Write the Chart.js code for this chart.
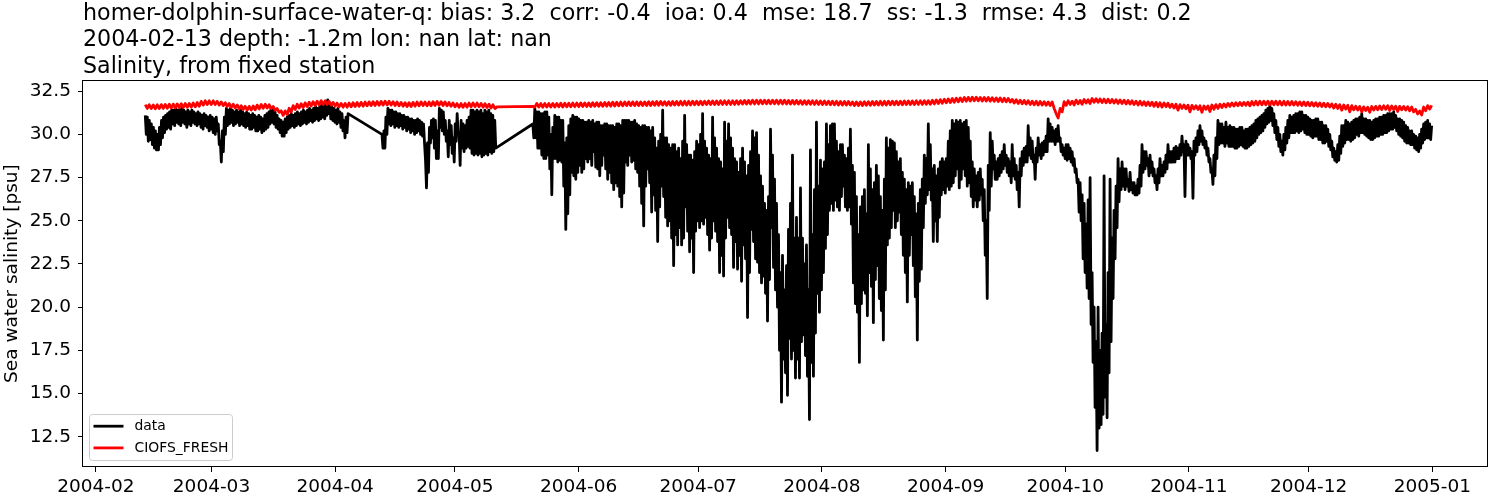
<!DOCTYPE html>
<html>
<head>
<meta charset="utf-8">
<script src="https://cdn.jsdelivr.net/npm/chart.js@4.4.1/dist/chart.umd.min.js"></script>
<style>
html,body{margin:0;padding:0;background:#fff;}
#wrap{width:1500px;height:500px;position:relative;}
</style>
</head>
<body>
<div id="wrap"><canvas id="c" width="1500" height="500"></canvas></div>
<script>
// ---------------- data ----------------
const titleLines = [
  'homer-dolphin-surface-water-q: bias: 3.2  corr: -0.4  ioa: 0.4  mse: 18.7  ss: -1.3  rmse: 4.3  dist: 0.2',
  '2004-02-13 depth: -1.2m lon: nan lat: nan',
  'Salinity, from fixed station'
];
const yAxisTitle = 'Sea water salinity [psu]';
const seriesNames = ['data', 'CIOFS_FRESH'];

const monthTicks = ['2004-02-01T00:00','2004-03-01T00:00','2004-04-01T00:00','2004-05-01T00:00','2004-06-01T00:00','2004-07-01T00:00','2004-08-01T00:00','2004-09-01T00:00','2004-10-01T00:00','2004-11-01T00:00','2004-12-01T00:00','2005-01-01T00:00'];
const monthLabels = ['2004-02','2004-03','2004-04','2004-05','2004-06','2004-07','2004-08','2004-09','2004-10','2004-11','2004-12','2005-01'];
const yTicks = [12.5, 15.0, 17.5, 20.0, 22.5, 25.0, 27.5, 30.0, 32.5];
const xRange = ['2004-01-28T19:00', '2005-01-14T23:00'];
const yRange = [10.75, 33.13];

// observed ("data") series: three recording periods, 6-hourly readings (high / low tide alternating)
const obsStart = ['2004-02-13T09:36', '2004-04-12T17:30', '2004-05-20T13:00'];
const obsEnd   = ['2004-04-04T05:30', '2004-05-11T06:00', '2004-12-31T20:00'];
const obsValues1 = [
 31.1,30.0, 31.0,29.6, 30.8,29.7, 30.6,29.4, 30.4,29.2, 30.2,29.1, 30.0,29.1, 30.4,29.4, 30.8,29.8, 31.0,30.1,
 31.1,30.3, 31.2,30.4, 31.3,30.3, 31.4,30.6, 31.4,30.5, 31.5,30.7, 31.4,30.6, 31.4,30.5, 31.5,30.7, 31.4,30.6,
 31.3,30.4, 31.4,30.6, 31.3,30.5, 31.4,30.7, 31.3,30.6, 31.2,30.5, 31.3,30.6, 31.2,30.4, 31.1,30.3, 31.2,30.5,
 31.1,30.4, 31.0,30.2, 31.1,30.3, 31.0,30.1, 30.9,30.0, 31.0,30.2, 30.6,29.4, 29.6,28.4, 30.2,29.0, 31.0,30.0,
 31.5,30.5, 31.4,30.6, 31.5,30.7, 31.4,30.5, 31.3,30.6, 31.4,30.7, 31.3,30.5, 31.4,30.6, 31.3,30.5, 31.2,30.4,
 31.3,30.5, 31.2,30.3, 31.1,30.3, 31.2,30.4, 31.1,30.2, 31.0,30.2, 31.1,30.3, 31.0,30.1, 30.9,30.2, 31.1,30.3,
 31.2,30.4, 31.3,30.6, 31.5,30.7, 31.4,30.6, 31.3,30.4, 31.1,30.3, 30.9,30.1, 30.8,29.9, 30.7,29.9, 30.9,30.1,
 31.0,30.3, 31.1,30.4, 31.2,30.5, 31.1,30.4, 31.2,30.5, 31.3,30.6, 31.2,30.5, 31.3,30.6, 31.4,30.7, 31.3,30.6,
 31.4,30.7, 31.5,30.8, 31.4,30.7, 31.5,30.8, 31.6,30.9, 31.5,30.8, 31.6,30.9, 31.7,31.0, 31.6,30.9, 31.9,31.1,
 32.0,31.2, 31.7,30.9, 31.6,30.8, 31.5,30.7, 31.4,30.6, 31.5,30.7, 31.3,30.4, 31.2,30.2, 30.8,29.8, 31.0,30.1,
 31.2
];
const obsValues2 = [
 30.0,29.2, 30.2,29.2, 31.0,30.0, 31.5,30.6, 31.4,30.5, 31.4,30.6, 31.3,30.4, 31.3,30.5, 31.2,30.4, 31.2,30.5,
 31.1,30.3, 31.1,30.4, 31.0,30.2, 31.0,30.3, 30.9,30.1, 30.9,30.2, 30.8,30.0, 30.8,30.1, 30.9,30.2, 30.8,30.0,
 30.7,29.9, 30.6,29.5, 28.5,26.9, 29.5,27.8, 30.4,29.5, 30.8,29.8, 30.9,29.2, 30.8,28.6, 30.2,28.6, 31.5,30.4,
 31.4,30.2, 31.3,30.0, 30.8,29.6, 30.2,28.7, 30.8,29.4, 30.5,28.9, 29.8,28.4, 30.6,29.6, 31.2,30.0, 30.0,28.2,
 30.8,29.2, 30.6,29.0, 30.5,29.2, 30.8,29.3, 31.0,29.2, 31.4,28.9, 31.4,28.8, 31.3,28.9, 31.4,28.8, 31.3,28.9,
 31.4,28.7, 31.2,28.8, 31.4,28.9, 31.3,28.8, 31.4,29.0, 31.2,28.9, 31.1,29.0, 30.8,29.2
];
const obsValues3 = [
 30.6,29.8, 31.5,29.8, 31.3,29.2, 31.3,29.2, 31.2,28.8, 31.2,28.6, 31.3,28.6, 31.3,28.8, 31.0,28.0, 30.0,26.5,
 30.4,28.6, 31.1,28.6, 31.0,28.4, 31.0,28.5, 30.8,28.4, 30.8,27.0, 29.5,24.5, 29.8,25.4, 30.5,26.5, 30.9,27.8,
 31.1,27.6, 31.0,27.4, 31.0,27.8, 30.9,28.2, 30.8,27.8, 30.8,28.0, 30.7,28.6, 30.7,28.4, 30.8,28.6, 30.7,28.2,
 30.8,29.0, 30.6,28.1, 30.7,28.0, 30.7,27.6, 30.5,28.2, 30.5,28.8, 30.6,28.0, 30.6,27.4, 30.5,27.8, 30.5,27.2,
 30.5,26.8, 30.4,27.2, 30.6,27.0, 30.6,26.4, 30.5,25.8, 30.8,26.6, 30.8,28.4, 30.8,28.2, 30.8,28.8, 30.7,28.4,
 30.7,28.5, 30.8,28.0, 30.6,27.8, 30.5,27.0, 30.4,26.0, 30.5,24.7, 30.5,27.0, 30.4,28.0, 30.4,27.2, 30.2,25.5,
 30.4,26.5, 29.8,25.6, 29.2,23.8, 29.6,25.8, 30.0,27.0, 31.4,26.4, 29.8,25.2, 29.8,24.7, 29.4,25.0, 29.2,24.0,
 29.4,22.4, 29.4,24.2, 29.0,23.6, 29.2,24.6, 28.6,23.6, 29.6,24.0, 31.1,25.8, 29.4,24.4, 28.8,23.2, 28.8,24.0,
 28.5,22.0, 29.0,24.4, 29.6,25.0, 29.4,24.6, 30.0,25.0, 31.2,24.8, 29.6,25.2, 29.2,24.2, 28.8,23.3, 28.6,24.0,
 31.0,25.0, 29.8,24.4, 29.2,23.8, 28.6,22.0, 28.4,23.0, 28.0,21.8, 30.7,24.0, 29.6,25.2, 30.6,24.6, 29.8,24.2,
 29.2,22.3, 28.6,23.8, 28.4,22.2, 27.8,23.0, 28.6,21.5, 29.2,23.6, 28.4,22.8, 27.6,19.4, 28.2,22.0, 29.0,24.5,
 30.2,23.8, 29.8,22.8, 30.1,22.6, 28.8,22.0, 27.6,21.4, 27.0,21.8, 26.0,20.8, 25.6,19.2, 26.4,21.6, 30.3,24.6,
 28.8,22.3, 27.4,21.0, 26.0,20.0, 24.2,17.5, 22.0,14.5, 23.0,17.0, 21.0,16.2, 22.4,14.9, 24.5,18.2, 26.0,17.0,
 28.8,17.5, 24.0,15.9, 25.2,17.0, 24.0,15.9, 26.9,18.0, 24.0,18.4, 22.5,17.2, 23.6,16.0, 21.0,13.5, 29.1,16.8,
 24.2,16.0, 26.8,18.5, 30.7,20.8, 27.0,19.7, 28.5,21.0, 28.0,22.0, 28.4,23.4, 30.6,24.2, 29.4,25.6, 30.5,26.0,
 30.6,25.6, 30.6,26.2, 29.6,25.8, 29.0,25.6, 29.4,26.4, 29.4,27.0, 28.8,25.8, 28.6,25.6, 29.2,25.8, 30.3,24.8,
 28.2,21.4, 27.8,20.2, 26.4,19.7, 24.2,16.8, 25.8,20.2, 26.4,21.0, 26.8,20.8, 25.4,19.5, 29.4,22.0, 28.0,21.2,
 26.8,19.1, 27.2,21.6, 28.2,22.4, 27.6,20.5, 26.4,19.8, 25.6,18.1, 27.4,21.0, 29.8,23.6, 29.2,24.0, 29.7,24.6,
 29.6,25.6, 29.5,24.6, 29.0,25.0, 28.4,25.5, 28.6,24.2, 27.8,23.0, 27.4,22.0, 26.8,20.3, 27.2,23.0, 27.0,24.2,
 27.2,22.4, 26.4,20.6, 25.4,18.1, 26.0,21.5, 26.8,22.2, 27.4,24.6, 28.8,26.0, 28.6,26.5, 30.6,26.8, 29.4,26.2,
 28.0,23.8, 28.2,25.0, 27.6,23.8, 28.0,25.2, 28.4,26.5, 28.6,26.8, 28.4,26.6, 28.6,27.0, 29.6,26.8, 30.2,27.0,
 30.8,27.2, 30.6,27.6, 30.8,28.0, 30.7,26.9, 30.8,27.4, 30.6,28.0, 30.7,27.6, 30.8,27.0, 30.4,27.2, 29.6,26.4,
 28.4,25.8, 28.0,26.2, 27.6,25.8, 27.8,26.2, 28.0,26.5, 27.4,25.0, 26.8,23.0, 25.0,20.5, 28.2,25.6, 30.1,27.0,
 29.6,28.0, 28.8,27.4, 28.4,27.4, 28.6,27.6, 28.8,27.8, 29.0,28.0, 29.4,28.2, 28.8,27.8, 28.6,27.6, 28.4,27.2,
 29.4,27.6, 28.6,27.4, 28.2,26.8, 27.8,25.8, 28.6,27.6, 29.0,28.2, 29.2,28.4, 29.3,28.4, 30.5,28.8, 29.8,28.6,
 29.6,28.4, 28.8,27.4, 29.2,28.4, 29.8,28.8, 29.4,28.6, 29.5,28.8, 29.6,29.0, 29.9,29.0, 30.9,29.6, 30.6,29.6,
 30.4,29.6, 30.2,29.4, 30.3,29.6, 30.5,29.6, 29.8,29.0, 29.4,28.8, 29.2,28.6, 29.4,28.5, 29.4,28.6, 29.2,28.4,
 29.0,28.2, 28.6,27.8, 28.0,27.2, 27.4,25.5, 27.2,25.0, 26.5,22.8, 26.0,22.0, 24.8,21.1, 26.2,20.5, 27.5,19.0,
 22.0,16.8, 20.0,14.2, 18.0,11.7, 20.0,13.0, 17.5,13.2, 18.5,13.8, 27.6,14.8, 19.0,13.6, 22.0,16.2, 27.4,18.0,
 24.0,20.5, 25.6,22.8, 27.0,24.6, 28.6,26.1, 28.0,26.8, 28.4,27.0, 28.0,26.8, 28.0,27.0, 27.4,26.7, 27.8,26.8,
 27.2,26.6, 27.2,26.5, 27.0,26.5, 27.4,26.6, 28.2,27.0, 29.4,27.8, 29.0,28.0, 29.0,28.2, 28.6,27.6, 28.8,27.8,
 28.4,27.6, 28.0,27.2, 27.6,26.8, 28.0,27.2, 28.6,27.6, 28.2,27.6, 28.4,27.8, 28.8,28.0, 29.4,28.4, 29.0,28.4,
 29.0,28.4, 29.2,28.4, 29.3,28.6, 29.2,28.6, 29.4,28.8, 29.9,29.0, 29.4,26.4, 29.6,28.8, 29.4,28.8, 29.2,28.6,
 29.0,26.3, 29.6,28.8, 29.8,29.0, 30.2,29.4, 30.5,29.6, 30.2,29.4, 29.8,29.2, 29.6,28.8, 29.2,28.4, 28.6,27.8,
 28.0,27.1, 28.8,27.6, 29.8,28.6, 30.8,29.4, 30.6,29.5, 30.6,29.5, 30.4,29.3, 30.7,29.5, 30.4,29.3, 30.5,29.3,
 30.4,29.3, 30.4,29.2, 30.3,29.2, 30.3,29.3, 30.4,29.4, 30.4,29.3, 30.2,29.2, 30.3,29.2, 30.3,29.3, 30.4,29.4,
 30.5,29.5, 30.6,29.6, 30.8,29.8, 30.9,30.0, 31.0,30.1, 31.1,30.2, 31.2,30.4, 31.4,30.6, 31.5,30.7, 31.7,30.8,
 31.5,30.5, 31.2,30.1, 30.8,29.7, 30.4,29.3, 30.0,29.0, 29.6,28.8, 30.0,29.1, 30.4,29.5, 30.8,29.8, 31.1,30.1,
 31.0,30.1, 31.1,30.1, 31.2,30.2, 31.2,30.1, 31.3,30.2, 31.3,30.3, 31.1,30.1, 31.1,30.0, 31.0,30.0, 30.9,29.9,
 30.8,29.8, 30.8,29.9, 30.9,29.9, 30.9,29.7, 30.7,29.7, 30.7,29.5, 30.5,29.5, 30.5,29.6, 30.3,29.3, 30.0,29.1,
 29.6,28.7, 29.2,28.5, 29.0,28.4, 29.4,28.5, 29.9,28.9, 30.5,29.3, 30.5,29.5, 30.8,29.7, 30.7,29.7, 30.6,29.6,
 30.7,29.7, 30.8,29.8, 30.9,30.0, 30.9,29.9, 31.0,30.1, 31.2,30.1, 30.9,30.0, 30.9,29.9, 30.8,29.8, 30.8,29.7,
 30.7,29.7, 30.8,29.8, 30.9,29.9, 30.9,29.9, 31.0,30.0, 31.0,30.0, 31.1,30.1, 31.1,30.1, 31.2,30.2, 31.2,30.3,
 31.2,30.3, 31.3,30.4, 31.1,30.2, 30.9,30.0, 30.9,29.9, 30.8,29.8, 30.7,29.6, 30.5,29.5, 30.4,29.5, 30.2,29.4,
 30.2,29.4, 30.0,29.2, 29.9,29.1, 29.8,29.0, 30.0,29.2, 30.3,29.5, 30.6,29.7, 30.7,29.8, 30.8,29.8, 30.6,29.7,
 30.5
];

// model ("CIOFS_FRESH") series: two periods, 12-hourly readings (tidal high / low)
const modStart = ['2004-02-13T09:36', '2004-05-20T13:00'];
const modEnd   = ['2004-05-11T13:30', '2004-12-31T20:00'];
const modValues1 = [
 31.72,31.50, 31.71,31.49, 31.70,31.48, 31.71,31.49, 31.72,31.50, 31.73,31.51, 31.74,31.52, 31.75,31.53, 31.76,31.54, 31.77,31.55,
 31.78,31.56, 31.79,31.57, 31.81,31.59, 31.84,31.62, 31.91,31.69, 31.94,31.72, 31.94,31.72, 31.94,31.72, 31.91,31.69, 31.88,31.66,
 31.83,31.61, 31.78,31.56, 31.74,31.52, 31.70,31.48, 31.66,31.44, 31.62,31.40, 31.62,31.40, 31.64,31.42, 31.69,31.47, 31.73,31.51,
 31.74,31.52, 31.71,31.49, 31.61,31.39, 31.49,31.27, 31.36,31.10, 31.36,31.14, 31.51,31.29, 31.66,31.44, 31.74,31.52, 31.77,31.55,
 31.82,31.60, 31.86,31.64, 31.89,31.67, 31.92,31.70, 31.95,31.73, 31.94,31.72, 31.91,31.69, 31.85,31.63, 31.81,31.59, 31.79,31.57,
 31.79,31.57, 31.81,31.59, 31.83,31.61, 31.84,31.62, 31.85,31.63, 31.87,31.65, 31.88,31.66, 31.89,31.67, 31.90,31.68, 31.91,31.69,
 31.92,31.70, 31.91,31.69, 31.89,31.67, 31.87,31.65, 31.85,31.63, 31.83,31.61, 31.83,31.61, 31.85,31.63, 31.87,31.65, 31.88,31.66,
 31.87,31.65, 31.87,31.65, 31.89,31.67, 31.90,31.68, 31.89,31.67, 31.87,31.65, 31.84,31.62, 31.81,31.59, 31.78,31.56, 31.78,31.56,
 31.79,31.57, 31.81,31.59, 31.82,31.60, 31.81,31.59, 31.79,31.57, 31.77,31.55, 31.74,31.52, 31.71,31.49, 31.59
];
const modValues2 = [
 31.62,31.57, 31.79,31.58, 31.78,31.57, 31.79,31.58, 31.78,31.58, 31.79,31.58, 31.79,31.59, 31.80,31.58, 31.80,31.59, 31.80,31.59,
 31.81,31.60, 31.81,31.60, 31.82,31.61, 31.82,31.61, 31.82,31.61, 31.83,31.62, 31.83,31.62, 31.83,31.62, 31.84,31.63, 31.84,31.63,
 31.86,31.64, 31.86,31.65, 31.87,31.65, 31.87,31.66, 31.88,31.66, 31.88,31.66, 31.88,31.67, 31.88,31.67, 31.88,31.67, 31.89,31.67,
 31.89,31.68, 31.90,31.68, 31.90,31.69, 31.89,31.68, 31.89,31.68, 31.90,31.69, 31.90,31.69, 31.91,31.69, 31.91,31.70, 31.91,31.70,
 31.92,31.71, 31.92,31.71, 31.92,31.71, 31.92,31.72, 31.93,31.72, 31.93,31.72, 31.93,31.72, 31.94,31.73, 31.94,31.73, 31.94,31.73,
 31.94,31.73, 31.95,31.74, 31.95,31.75, 31.96,31.75, 31.96,31.76, 31.97,31.76, 31.97,31.76, 31.98,31.77, 31.98,31.77, 31.98,31.77,
 31.98,31.77, 31.98,31.76, 31.97,31.76, 31.97,31.76, 31.96,31.75, 31.96,31.75, 31.96,31.75, 31.95,31.74, 31.95,31.74, 31.95,31.74,
 31.94,31.73, 31.94,31.73, 31.93,31.72, 31.93,31.72, 31.92,31.71, 31.92,31.71, 31.91,31.70, 31.90,31.69, 31.90,31.69, 31.90,31.69,
 31.88,31.67, 31.88,31.67, 31.88,31.67, 31.89,31.68, 31.89,31.68, 31.90,31.69, 31.90,31.69, 31.91,31.70, 31.91,31.70, 31.92,31.71,
 31.92,31.71, 31.92,31.71, 31.92,31.71, 31.93,31.72, 31.93,31.72, 31.93,31.72, 31.94,31.73, 31.94,31.73, 31.95,31.74, 31.95,31.74,
 31.97,31.76, 31.99,31.78, 32.01,31.80, 32.03,31.82, 32.05,31.84, 32.07,31.86, 32.09,31.88, 32.11,31.90, 32.13,31.92, 32.14,31.93,
 32.15,31.94, 32.15,31.94, 32.14,31.93, 32.14,31.93, 32.13,31.92, 32.12,31.91, 32.11,31.90, 32.10,31.89, 32.09,31.88, 32.08,31.87,
 32.02,31.81, 32.00,31.79, 31.98,31.77, 31.96,31.75, 31.94,31.73, 31.92,31.71, 31.91,31.70, 31.90,31.69, 31.89,31.68, 31.88,31.67,
 31.88,31.50, 31.20,30.95, 31.50,31.30, 31.89,31.68, 31.94,31.73, 31.92,31.70, 31.98,31.77, 31.96,31.74, 32.02,31.81, 32.00,31.78,
 32.07,31.86, 32.06,31.85, 32.05,31.84, 32.04,31.83, 32.03,31.82, 32.02,31.81, 32.00,31.79, 31.99,31.78, 31.97,31.76, 31.96,31.75,
 31.94,31.72, 31.92,31.70, 31.91,31.69, 31.89,31.67, 31.88,31.66, 31.86,31.62, 31.85,31.60, 31.83,31.58, 31.82,31.60, 31.80,31.56,
 31.75,31.52, 31.74,31.40, 31.72,31.50, 31.70,31.48, 31.69,31.30, 31.68,31.46, 31.66,31.44, 31.65,31.28, 31.64,31.45, 31.64,31.32,
 31.70,31.45, 31.72,31.50, 31.74,31.55, 31.76,31.58, 31.79,31.62, 31.81,31.64, 31.83,31.66, 31.84,31.67, 31.85,31.68, 31.86,31.65,
 31.90,31.69, 31.91,31.70, 31.92,31.71, 31.92,31.71, 31.92,31.71, 31.92,31.71, 31.92,31.71, 31.91,31.70, 31.91,31.70, 31.90,31.69,
 31.90,31.69, 31.89,31.68, 31.88,31.67, 31.87,31.66, 31.86,31.65, 31.85,31.64, 31.83,31.62, 31.82,31.61, 31.80,31.59, 31.79,31.58,
 31.76,31.52, 31.74,31.50, 31.72,31.40, 31.70,31.46, 31.68,31.30, 31.66,31.42, 31.63,31.40, 31.61,31.30, 31.59,31.38, 31.57,31.28,
 31.61,31.40, 31.62,31.42, 31.64,31.44, 31.65,31.45, 31.66,31.38, 31.64,31.44, 31.63,31.32, 31.62,31.42, 31.61,31.40, 31.60,31.36,
 31.58,31.30, 31.45,31.18, 31.35,31.12, 31.58,31.36, 31.66,31.46, 31.68
];

// ---------------- build ----------------
const T0 = Date.UTC(2004, 0, 1);
function toDay(s) { return (Date.parse(s + ':00Z') - T0) / 86400000; }
function sampled(starts, ends, blocks) {
  const pts = [];
  blocks.forEach((vals, b) => {
    const a = toDay(starts[b]), e = toDay(ends[b]), n = vals.length;
    vals.forEach((v, i) => pts.push({ x: a + (e - a) * i / (n - 1), y: v }));
  });
  return pts;
}
const obsPts = sampled(obsStart, obsEnd, [obsValues1, obsValues2, obsValues3]);
const modPts = sampled(modStart, modEnd, [modValues1, modValues2]);

const FONT = "'DejaVu Sans', 'Liberation Sans', sans-serif";
Chart.defaults.font.family = FONT;
Chart.defaults.color = '#000';

const framePlugin = {
  id: 'frame',
  afterDatasetsDraw(chart) {
    const { ctx, chartArea: a } = chart;
    ctx.save();
    ctx.strokeStyle = '#000';
    ctx.lineWidth = 1;
    ctx.strokeRect(Math.round(a.left) - 0.5, Math.round(a.top) + 0.5,
                   Math.round(a.right - a.left), Math.round(a.bottom - a.top) - 1);
    ctx.restore();
  }
};

const boxLegend = {
  id: 'boxLegend',
  afterDraw(chart) {
    const { ctx, chartArea: a } = chart;
    const x = a.left + 6.5, y = a.bottom - 52.5, w = 143, h = 46, r = 3;
    ctx.save();
    ctx.beginPath();
    ctx.moveTo(x + r, y); ctx.lineTo(x + w - r, y); ctx.quadraticCurveTo(x + w, y, x + w, y + r);
    ctx.lineTo(x + w, y + h - r); ctx.quadraticCurveTo(x + w, y + h, x + w - r, y + h);
    ctx.lineTo(x + r, y + h); ctx.quadraticCurveTo(x, y + h, x, y + h - r);
    ctx.lineTo(x, y + r); ctx.quadraticCurveTo(x, y, x + r, y); ctx.closePath();
    ctx.fillStyle = 'rgba(255,255,255,0.8)'; ctx.fill();
    ctx.strokeStyle = '#cccccc'; ctx.lineWidth = 1; ctx.stroke();
    ctx.font = '13.9px ' + FONT;
    ctx.textBaseline = 'middle';
    chart.data.datasets.forEach((ds, i) => {
      const yy = y + 11.7 + i * 21.7;
      ctx.strokeStyle = ds.borderColor; ctx.lineWidth = 2.8;
      ctx.beginPath(); ctx.moveTo(x + 4, yy); ctx.lineTo(x + 34, yy); ctx.stroke();
      ctx.fillStyle = '#000';
      ctx.fillText(ds.label, x + 45, yy + 0.5);
    });
    ctx.restore();
  }
};

new Chart(document.getElementById('c'), {
  type: 'line',
  data: {
    datasets: [
      { label: seriesNames[0], data: obsPts, borderColor: '#000000', borderWidth: 2.8,
        pointRadius: 0, tension: 0, order: 1, borderJoinStyle: 'round' },
      { label: seriesNames[1], data: modPts, borderColor: '#ff0000', borderWidth: 2.8,
        pointRadius: 0, tension: 0, order: 0, borderJoinStyle: 'round' }
    ]
  },
  options: {
    responsive: false,
    animation: false,
    devicePixelRatio: 1,
    parsing: false,
    normalized: true,
    layout: { padding: { left: 0, right: 12, top: 0, bottom: 0 } },
    plugins: {
      legend: { display: false },
      tooltip: { enabled: false },
      title: {
        display: true, text: titleLines, align: 'start', fullSize: false, color: '#000',
        font: { size: 22.2, weight: 'normal', lineHeight: 1.19 },
        padding: { top: 1, bottom: 0 }
      }
    },
    scales: {
      x: {
        type: 'linear',
        min: toDay(xRange[0]), max: toDay(xRange[1]),
        afterBuildTicks: s => { s.ticks = monthTicks.map(d => ({ value: toDay(d) })); },
        afterFit: s => { s.height = 33; },
        ticks: { callback: (v, i) => monthLabels[i], autoSkip: false, maxRotation: 0,
                 font: { size: 18.5 }, color: '#000', padding: 4 },
        grid: { drawOnChartArea: false, drawTicks: true, tickLength: 5, tickColor: '#000', tickWidth: 1 },
        border: { display: false }
      },
      y: {
        type: 'linear',
        min: yRange[0], max: yRange[1],
        afterBuildTicks: s => { s.ticks = yTicks.map(v => ({ value: v })); },
        afterFit: s => { s.width = 83; },
        ticks: { callback: v => Number(v).toFixed(1), font: { size: 18.5 }, color: '#000', padding: 7 },
        grid: { drawOnChartArea: false, drawTicks: true, tickLength: 5, tickColor: '#000', tickWidth: 1 },
        border: { display: false },
        title: { display: true, text: yAxisTitle, font: { size: 18.5 }, color: '#000',
                 padding: { top: 1, bottom: 0 } }
      }
    }
  },
  plugins: [framePlugin, boxLegend]
});
</script>
</body>
</html>
